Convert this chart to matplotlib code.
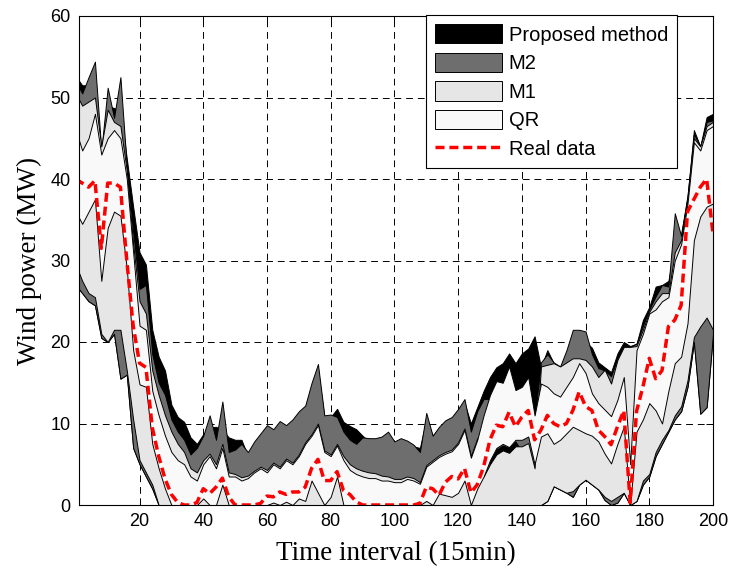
import numpy as np
import matplotlib
matplotlib.use("Agg")
import matplotlib.pyplot as plt

# time interval (every 2 steps)
x = np.arange(0, 201, 2)

real = [40, 39.5, 39, 39.8, 31.5, 39.5, 39.5, 39, 30, 22,
        17.4, 16.9, 9.5, 6, 3.2, 1.3, 0.3, 0, 0, 0.3,
        2, 1.4, 2.2, 3.3, 1, 0, 0, 0, 0, 0.2,
        1.1, 1.0, 1.6, 1.3, 1.6, 1.6, 2.2, 4.5, 5.6, 3,
        3, 4.1, 1.8, 1.3, 0.4, 0, 0, 0, 0, 0,
        0, 0, 0, 0, 0.2, 2.2, 2, 1.2, 2.8, 3.5,
        3.2, 4.5, 1.5, 2.5, 4.7, 8, 9.8, 9.6, 11.4, 9.6,
        10.8, 11.6, 8, 9.2, 11, 10, 9.6, 10, 11.6, 13.9,
        12.1, 11.6, 9.2, 8.4, 7.4, 9.6, 11.6, 0.3, 11.5, 14.5,
        18, 15.5, 16.5, 21.9, 22.7, 24.5, 36, 37.5, 39, 40, 33.3]

qr_lo = [36, 34.5, 36, 37.5, 27.5, 34, 36, 35.5, 29, 19,
         14.8, 14.5, 7.5, 4.5, 2, 0, 0, 0, 0, 0,
         0.8, 0, 0, 2.5, 0, 0, 0, 0, 0, 0,
         0, 0.3, 0, 0.4, 0, 0.8, 0.5, 3, 1.5, 0,
         1, 3.5, 0, 0, 0, 0, 0, 0, 0, 0,
         0, 0, 0, 0, 0, 0.5, 0, 1.4, 1.2, 1,
         1.5, 3, 0, 2, 3.5, 5.5, 7, 7.5, 7.1, 8,
         8, 8.4, 5, 8.4, 8.8, 7.5, 8, 8.8, 9.6, 9.2,
         8.8, 8.5, 7.8, 6.3, 5.1, 7.5, 9.6, 0, 9, 10.5,
         12.5, 11.6, 10, 14, 17.4, 18.2, 22.3, 32.5, 35.4, 36.6, 37]

qr_up = [46, 43.5, 45, 48, 43, 45, 46, 45, 40, 31,
         22, 21.5, 14, 11, 8.5, 6.5, 5.5, 5, 3.5, 3,
         5, 6, 4.5, 7, 3.5, 3.5, 3, 3.3, 4, 4.5,
         4, 5, 4.5, 5.5, 5, 6, 7.5, 8.5, 9.8, 6.5,
         6, 7.3, 5.5, 4.3, 3.8, 3.5, 3.3, 3.3, 3, 3,
         2.8, 2.8, 3.2, 3, 2.6, 4.7, 5.3, 5.9, 6.3, 6.6,
         7.5, 9.2, 5.8, 8, 11, 13.5, 15.2, 15, 17, 14.1,
         14.5, 15.7, 11, 14.9, 14.5, 13.7, 13.3, 14.5, 15.7, 17.4,
         16.2, 13.7, 12.5, 11.7, 10.9, 12.9, 15.7, 5, 19, 21,
         23.5, 24, 25, 25.5, 30, 32, 37, 44.5, 43.5, 46, 46.5]

m1_lo = [29.5, 27.5, 26, 25.5, 21, 20, 21.5, 21.5, 16.5, 10.5,
         5.5, 4, 2.5, 0, 0, 0, 0, 0, 0, 0,
         0, 0, 0, 0, 0, 0, 0, 0, 0, 0,
         0, 0, 0, 0, 0, 0, 0, 0, 0, 0,
         0, 0, 0, 0, 0, 0, 0, 0, 0, 0,
         0, 0, 0, 0, 0, 0, 0, 0, 0, 0,
         0, 0, 0, 0, 0, 0, 0, 0, 0, 0,
         0, 0, 0, 0, 0.5, 2.3, 1.9, 1.5, 1.7, 2.5,
         3.1, 2.5, 1.9, 1.0, 0.5, 1.0, 1.5, 0, 0.5, 3,
         3.8, 6.5, 8, 9.2, 11, 12.1, 15.3, 20.6, 21.9, 23, 21.5]

m1_up = [50.5, 49, 49.5, 50, 44, 48.5, 47, 46.5, 41, 32,
         25, 23.5, 16.5, 13.5, 11, 9, 7.5, 6.5, 4.5, 4,
         5.5, 6.3, 5, 7.5, 4, 3.8, 3.4, 3.6, 4.2, 4.7,
         4.3, 5.2, 4.7, 5.7, 5.2, 6.2, 7.7, 8.7, 10, 6.7,
         6.2, 7.5, 6, 5, 4.5, 4.2, 4.0, 3.9, 3.6, 3.5,
         3.2, 3.2, 3.5, 3.3, 2.8, 4.9, 5.5, 6.1, 6.5, 6.8,
         7.7, 9.4, 6, 8.2, 3.5, 5, 6.2, 6.7, 6.4, 7.2,
         7.2, 7.6, 4.5, 17, 17.2, 17.4, 17, 17.5, 18, 18,
         17.8, 17, 15.7, 16.6, 14.9, 17.8, 19.4, 19.4, 19.5, 21.5,
         23.7, 25, 26, 26, 31, 32.5, 37.5, 45, 44, 46.5, 47]

m2_lo = [27, 26, 25, 24.5, 20.5, 20, 21, 15.5, 16, 7,
         5, 3.5, 2, 0, 0, 0, 0, 0, 0, 0,
         0, 0, 0, 0, 0, 0, 0, 0, 0, 0,
         0, 0, 0, 0, 0, 0, 0, 0, 0, 0,
         0, 0, 0, 0, 0, 0, 0, 0, 0, 0,
         0, 0, 0, 0, 0, 0, 0, 0, 0, 0,
         0, 0, 0, 0, 0, 5.3, 6.8, 7.3, 7, 7.8,
         6.5, 6.8, 4, 0, 0.5, 2.3, 1.9, 1.5, 1.0, 2.5,
         3.1, 2.5, 1.9, 0.6, 0, 0.3, 1.5, 0, 0.5, 2.5,
         3.5, 6, 7.5, 9, 10.5, 11.5, 14.5, 20, 11.2, 12, 21]

m2_up = [52, 50.5, 52.5, 54.4, 43.5, 51.2, 47.5, 52.5, 41.5, 33.5,
         26.5, 27, 18.5, 15, 13.5, 10.5, 9, 8, 6.2, 7,
         8.5, 11, 8, 12.7, 6.5, 6.8, 7.5, 6.5, 7.8, 8.8,
         9.8, 9.3, 10.3, 9.8, 10.5, 11.5, 12.2, 15, 17.3, 11,
         11.1, 10.8, 9, 8, 7.5, 8.3, 8.2, 8.2, 8.4, 9,
         7.8, 8.2, 7.9, 7.4, 6.5, 11.3, 8.5, 9.6, 10.4, 10.8,
         11.8, 13, 9, 11.5, 13, 13, 14.5, 14.3, 16, 13.5,
         14, 15, 10.5, 17.5, 18.5, 17.5, 17, 19, 21.5, 21.5,
         21.3, 18.5, 16.8, 16.5, 15.8, 18, 19.5, 19.4, 19.8, 22,
         24, 25.6, 27, 26.8, 35.8, 33, 38, 45.5, 44, 47, 47.2]

p_lo = [27, 26, 25, 24.5, 20.5, 20, 21, 15.5, 16, 7,
        5, 3.5, 2, 0, 0, 0, 0, 0, 0, 0,
        0, 0, 0, 0, 0, 0, 0, 0, 0, 0,
        0, 0, 0, 0, 0, 0, 0, 0, 0, 0,
        0, 0, 0, 0, 0, 0, 0, 0, 0, 0,
        0, 0, 0, 0, 0, 0, 0, 0, 0, 0,
        0, 0, 0, 0, 0, 4, 5, 5.5, 5.5, 6,
        6, 6.5, 4, 0, 0.5, 2.3, 1.9, 1.5, 1.0, 2.5,
        3.1, 2.5, 1.9, 0.6, 0, 0.3, 1.5, 0, 0.5, 2.5,
        3.5, 6, 7.5, 9, 10.5, 11.5, 14.5, 20, 11.2, 12, 21]

p_up = [52.6, 51.5, 51.5, 50.5, 43, 49, 48.7, 48.5, 42.5, 36.6,
        31, 29.5, 21.5, 18.2, 16.5, 12.3, 10.8, 10.2, 8.3, 7.5,
        8.7, 9.5, 9.6, 9.2, 8.3, 8, 8, 6, 7.5, 8,
        9, 9, 10, 9.5, 10.2, 11.2, 12, 14.5, 16.5, 10.8,
        10.8, 11.8, 10.2, 9.7, 9.3, 8.5, 7.8, 8, 8, 8.5,
        7.5, 8, 7.7, 7.2, 7, 10.5, 8.5, 9.4, 10.2, 10.6,
        11.5, 12.5, 10, 12, 14, 15.7, 16.9, 17.4, 18.6, 17.4,
        18.6, 19.2, 20.7, 16.9, 19, 17.4, 16.6, 18.5, 20, 20.5,
        20, 19.3, 17.5, 16.9, 16.3, 18.6, 20, 19.5, 19.8, 22.7,
        24.3, 26.8, 27, 27.5, 32, 33.3, 37.8, 46, 44, 47.6, 48]

xticks = [20, 40, 60, 80, 100, 120, 140, 160, 180, 200]
yticks = [0, 10, 20, 30, 40, 50, 60]

fig = plt.figure(figsize=(7.32, 5.69), dpi=100)
ax = fig.add_axes([79 / 732, 1 - 505 / 569, (713 - 79) / 732, (505 - 16) / 569])

ek = dict(edgecolor="black", linewidth=0.7)
ax.fill_between(x, p_lo, p_up, facecolor="black", label="Proposed method", zorder=2, **ek)
ax.fill_between(x, m2_lo, m2_up, facecolor="#6e6e6e", label="M2", zorder=3, **ek)
ax.fill_between(x, m1_lo, m1_up, facecolor="#e6e6e6", label="M1", zorder=4, **ek)
ax.fill_between(x, qr_lo, qr_up, facecolor="#f9f9f9", label="QR", zorder=5, **ek)
ax.plot(x, real, color="red", linestyle=(0, (2.6, 1.4)), linewidth=2.5,
        label="Real data", zorder=6)

ax.set_xlim(1, 200)
ax.set_ylim(0, 60)
ax.set_xticks(xticks)
ax.set_yticks(yticks)
ax.set_axisbelow(True)
ax.grid(True, color="black", linestyle=(0, (7, 5)), linewidth=0.7)
ax.tick_params(direction="in", length=5, width=0.7, top=True, right=True,
               labelsize=13, pad=6)
for lab in ax.get_xticklabels() + ax.get_yticklabels():
    lab.set_fontfamily("Liberation Sans")
for s in ax.spines.values():
    s.set_linewidth(0.8)
    s.set_zorder(10)

ax.set_xlabel("Time interval (15min)", fontsize=19.5, family="Liberation Serif", labelpad=8)
ax.set_ylabel("Wind power (MW)", fontsize=19.5, family="Liberation Serif", labelpad=6)

leg = ax.legend(loc="upper right", bbox_to_anchor=(677 / 732, 1 - 15 / 569),
                bbox_transform=fig.transFigure, borderaxespad=0,
                prop={"family": "Liberation Sans", "size": 14.5},
                handlelength=3.3, handleheight=1.1, handletextpad=0.35,
                labelspacing=0.4, borderpad=0.45, fancybox=False,
                framealpha=1, edgecolor="black")
leg.get_frame().set_linewidth(0.8)
leg.set_zorder(20)

fig.savefig("out.png", dpi=100)
